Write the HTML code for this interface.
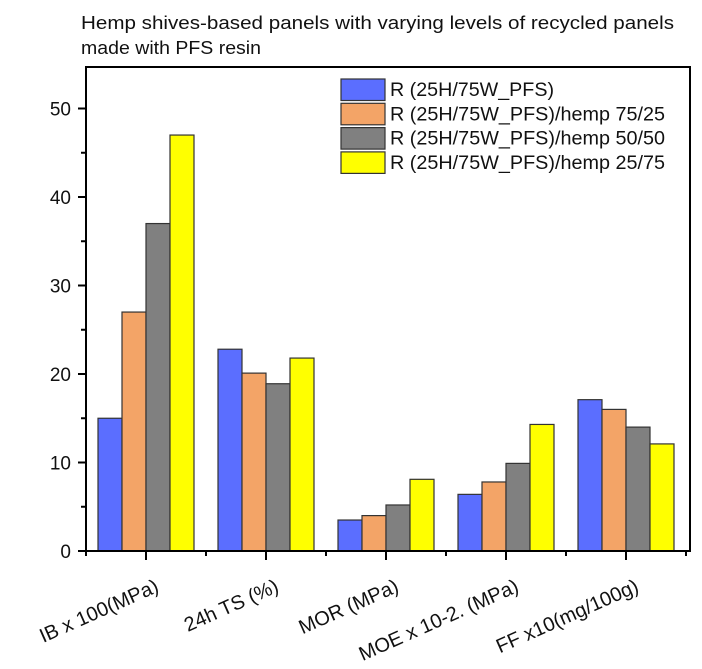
<!DOCTYPE html>
<html><head><meta charset="utf-8"><style>
html,body{margin:0;padding:0;background:#fff;}
svg{display:block;font-family:"Liberation Sans",Arial,sans-serif;}
</style></head><body>
<svg id="chart" width="702" height="669" viewBox="0 0 702 669" xmlns="http://www.w3.org/2000/svg">
<g>
<text x="81" y="29" font-size="18" fill="#111" textLength="593" lengthAdjust="spacingAndGlyphs">Hemp shives-based panels with varying levels of recycled panels</text>
<text x="81" y="54" font-size="18" fill="#111" textLength="180" lengthAdjust="spacingAndGlyphs">made with PFS resin</text>
</g>
<g id="bars"></g>
<g id="axes"></g>
<g id="legend"></g>
</svg>
<script>
const categories = ["IB x 100(MPa)", "24h TS (%)", "MOR (MPa)", "MOE x 10-2. (MPa)", "FF x10(mg/100g)"];
const seriesNames = ["R (25H/75W_PFS)", "R (25H/75W_PFS)/hemp 75/25", "R (25H/75W_PFS)/hemp 50/50", "R (25H/75W_PFS)/hemp 25/75"];
const seriesA = [15, 22.8, 3.5, 6.4, 17.1];
const seriesB = [27, 20.1, 4.0, 7.8, 16.0];
const seriesC = [37, 18.9, 5.2, 9.9, 14.0];
const seriesD = [47, 21.8, 8.1, 14.3, 12.1];
const yTicks = [0, 10, 20, 30, 40, 50];
const yMinor = [5, 15, 25, 35, 45];

const NS = "http://www.w3.org/2000/svg";
const colors = ["#5b6eff", "#f3a467", "#808080", "#ffff00"];
const series = [seriesA, seriesB, seriesC, seriesD];
const L = 86, R = 690, T = 67, B = 551;
function yS(v){ return B - v * 8.85; }
const step = 120;
function xc(i){ return 146 + i * step; }
const bw = 24;
function mk(tag, attrs, parent){ const e = document.createElementNS(NS, tag); for (const k in attrs) e.setAttribute(k, attrs[k]); parent.appendChild(e); return e; }

const gb = document.getElementById("bars");
series.forEach((s, si) => {
  s.forEach((v, ci) => {
    const x0 = xc(ci) - 2 * bw + si * bw;
    const r = mk("rect", {x: x0, y: yS(v), width: bw, height: B - yS(v), fill: colors[si], stroke: "#333", "stroke-width": 1.2}, gb);
    
    
  });
});

const ga = document.getElementById("axes");
mk("rect", {x: L, y: T, width: R - L, height: B - T, fill: "none", stroke: "#000", "stroke-width": 2}, ga);
yTicks.forEach(t => {
  mk("line", {x1: L - 8, x2: L, y1: yS(t), y2: yS(t), stroke: "#000", "stroke-width": 2}, ga);
  const tx = mk("text", {x: L - 15, y: yS(t) + 7, "font-size": 19, "text-anchor": "end", fill: "#111"}, ga);
  tx.textContent = t;
  
  
});
yMinor.forEach(t => mk("line", {x1: L - 5, x2: L, y1: yS(t), y2: yS(t), stroke: "#000", "stroke-width": 2}, ga));
categories.forEach((c, i) => {
  mk("line", {x1: xc(i), x2: xc(i), y1: B, y2: B + 9, stroke: "#000", "stroke-width": 2}, ga);
  mk("line", {x1: xc(i) + step / 2, x2: xc(i) + step / 2, y1: B, y2: B + 5, stroke: "#000", "stroke-width": 2}, ga);
  const tx = mk("text", {x: 0, y: 0, "font-size": 20, "text-anchor": "end", fill: "#111", transform: "translate(" + (xc(i) + 14) + "," + (B + 40) + ") rotate(-24)"}, ga);
  tx.textContent = c;
  
  
});
mk("line", {x1: L, x2: L, y1: B, y2: B + 5, stroke: "#000", "stroke-width": 2}, ga);

const gl = document.getElementById("legend");
seriesNames.forEach((n, i) => {
  const yy = 79 + i * 24.3;
  const sw = mk("rect", {x: 341, y: yy, width: 44, height: 21.5, fill: colors[i], stroke: "#333", "stroke-width": 1.2}, gl);
  
  
  const tx = mk("text", {x: 390, y: yy + 17, "font-size": 19, fill: "#111", textLength: (i === 0 ? 164 : 275), lengthAdjust: "spacingAndGlyphs"}, gl);
  tx.textContent = n;
  
  
});
</script>
</body></html>
